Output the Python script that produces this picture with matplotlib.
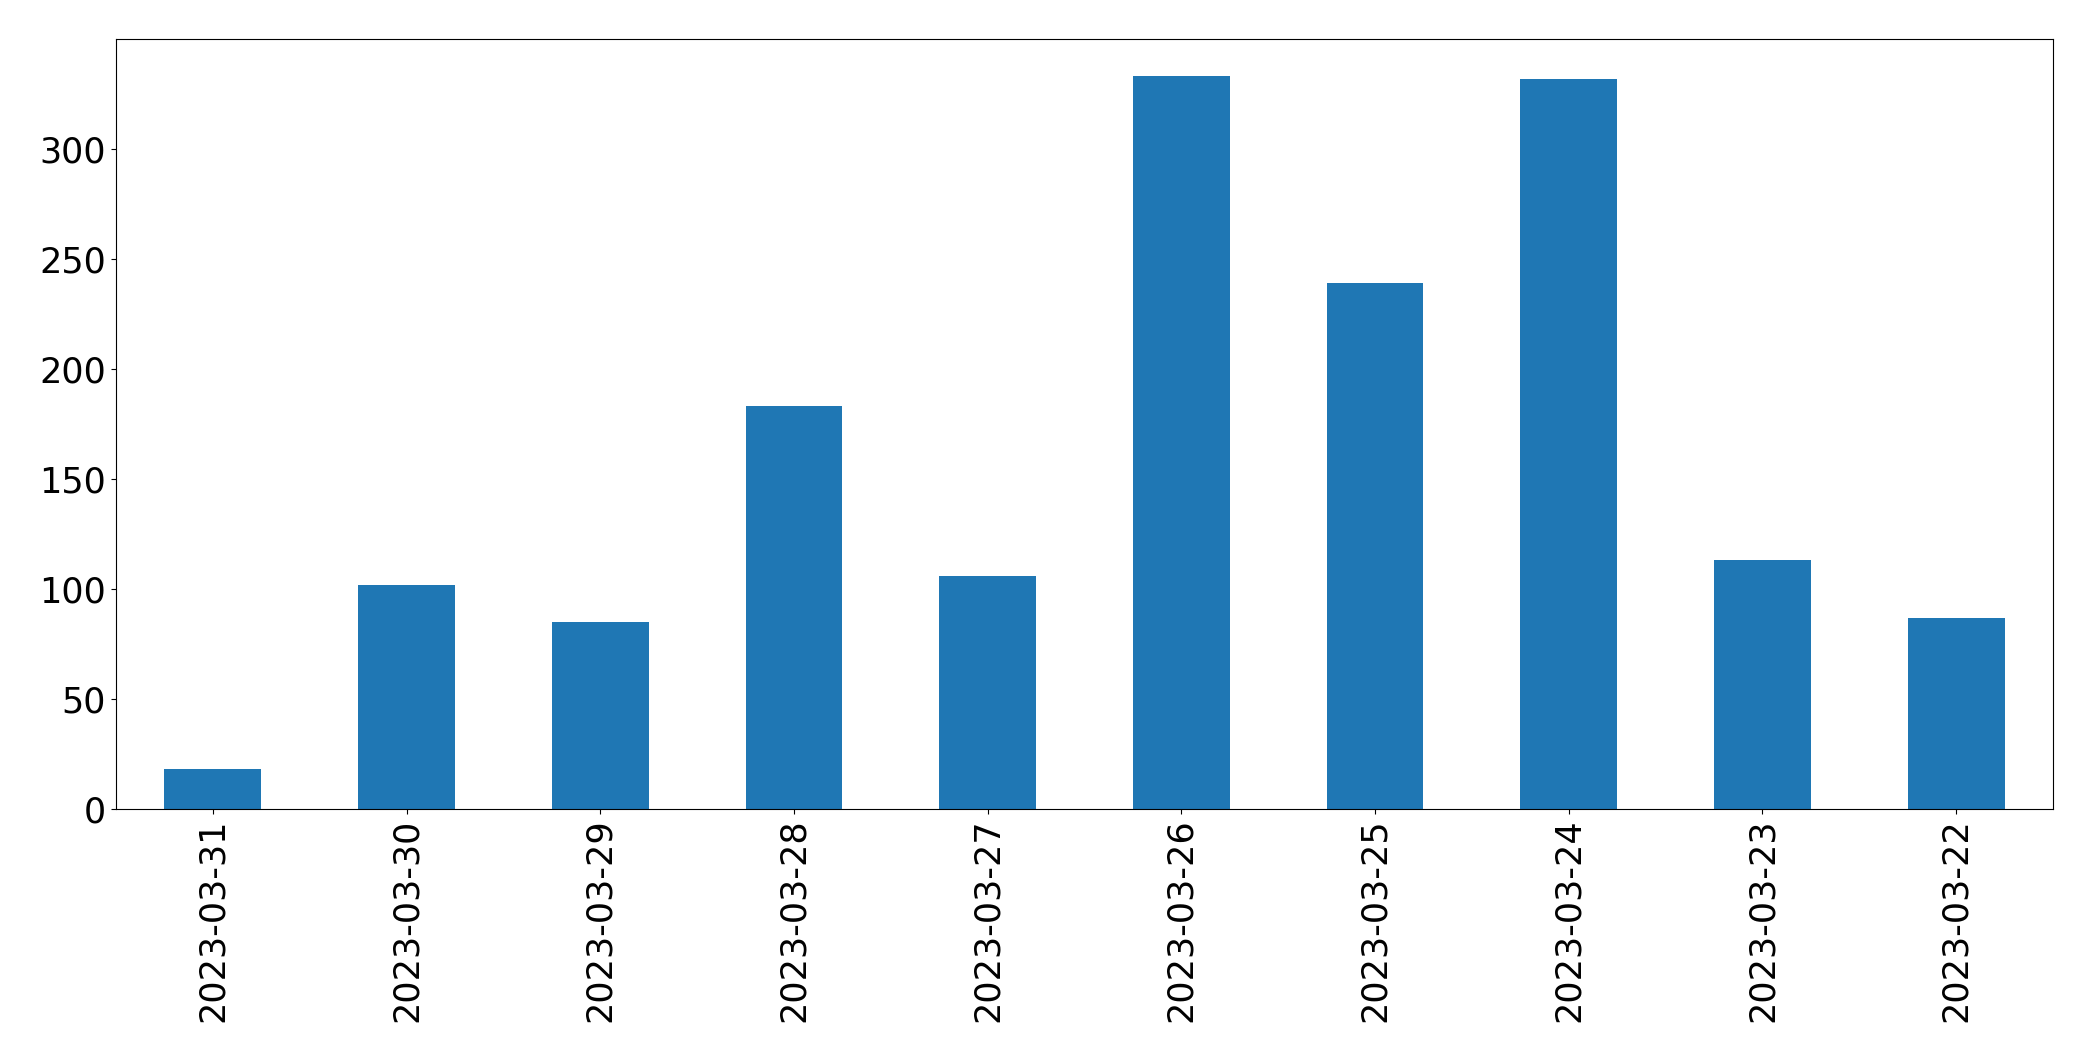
import matplotlib
matplotlib.use("Agg")
import matplotlib.pyplot as plt

dates = ["2023-03-31", "2023-03-30", "2023-03-29", "2023-03-28", "2023-03-27",
         "2023-03-26", "2023-03-25", "2023-03-24", "2023-03-23", "2023-03-22"]
counts = [18, 102, 85, 183, 106, 333, 239, 332, 113, 87]

fig = plt.figure(figsize=(20.93, 10.61), dpi=100)
ax = fig.add_axes([116/2093, 1 - 809/1061, (2053-116)/2093, (809-39)/1061])
x = list(range(len(dates)))
ax.bar(x, counts, width=0.5, color="#1f77b4")
ax.set_xlim(-0.5, len(dates) - 0.5)
ax.set_ylim(0, 350)
ax.set_xticks(x)
ax.set_xticklabels(dates, rotation=90)
ax.set_yticks([0, 50, 100, 150, 200, 250, 300])
ax.tick_params(axis="both", labelsize=25.2)
fig.savefig("out.png", dpi=100)
